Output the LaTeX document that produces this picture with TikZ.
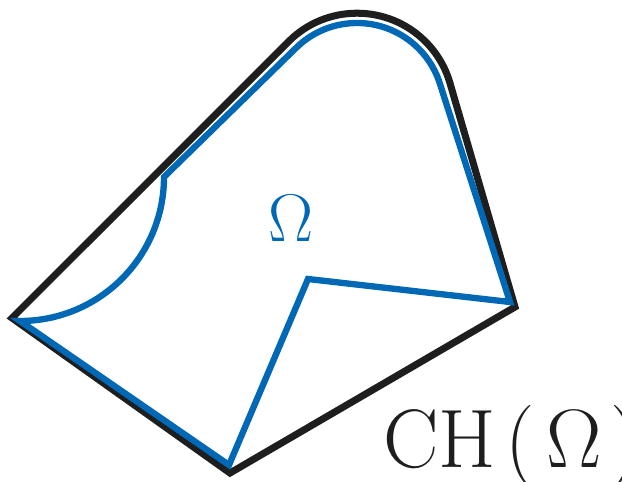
\documentclass[tikz,border=0pt]{standalone}
\usepackage{fix-cm}
\usetikzlibrary{calc}
\definecolor{omegablue}{RGB}{0, 104, 180}
\definecolor{hullblack}{RGB}{30, 30, 30}

\begin{document}
\begin{tikzpicture}[
    hull/.style={draw=hullblack, line width=5pt},
    omegaline/.style={draw=omegablue, line width=4.5pt},
    biglabel/.style={inner sep=0pt, font=\fontsize{59}{60}\selectfont}
]
    \useasboundingbox (0, 0) rectangle (15.55, 12.025);

    % =========================================================================
    % CONVEX HULL (black)
    % =========================================================================
    \coordinate (hc) at (8.925, 9.275);   % centre of the rounded top
    \coordinate (L) at (0.30, 4.075);
    \coordinate (R) at (12.875, 4.35);
    \coordinate (B) at (5.75, 0.2);
    \draw[hull] (L) -- ($(hc) + (135:2.42)$) arc[start angle=135, end angle=16.3, radius=2.42]
        -- (R) -- (B) -- cycle;

    % =========================================================================
    % DOMAIN OMEGA (blue)
    % =========================================================================
    \coordinate (P1) at (0.5, 4.0);
    \coordinate (Rin) at (12.75, 4.475);
    \coordinate (Nin) at (7.7, 5.05);
    \coordinate (Bin) at (5.725, 0.4);
    \draw[omegaline] (P1) arc[start angle=270, end angle=360, radius=3.6]
        -- ($(hc) + (135:2.175)$) arc[start angle=135, end angle=16.3, radius=2.175]
        -- (Rin) -- (Nin) -- (Bin) -- cycle;

    % Labels
    \node[inner sep=0pt, text=omegablue, font=\fontsize{48}{48}\selectfont] (omega) at (7.275, 6.575) {$\Omega$};
    \node[biglabel, anchor=base west, text=hullblack] (ch) at (9.575, 0.35)
        {$\mathrm{CH}\mkern2mu(\mkern2.5mu\Omega\mkern2mu)$};
\end{tikzpicture}
\end{document}
